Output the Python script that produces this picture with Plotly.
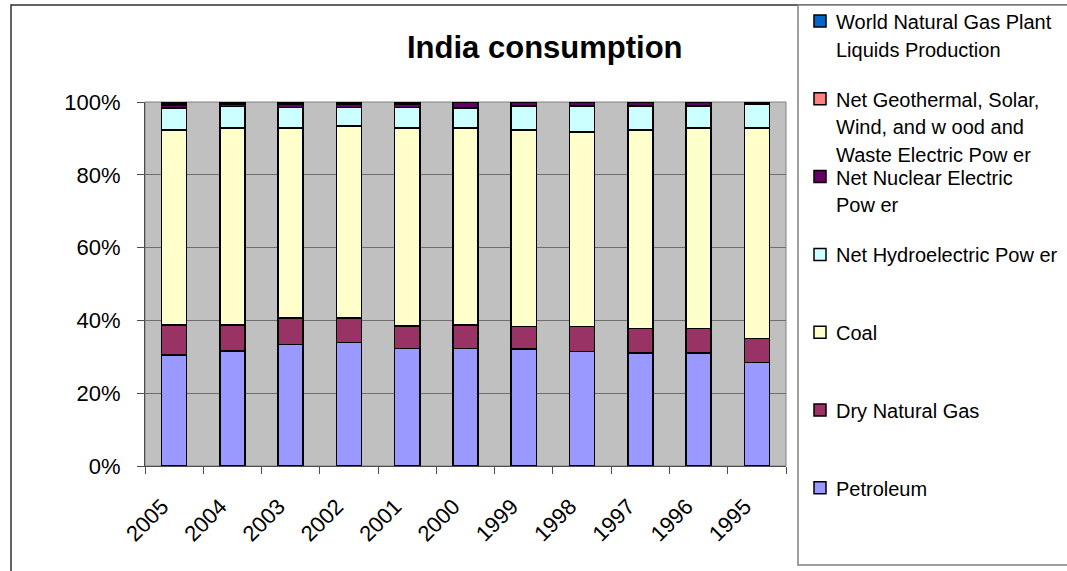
import plotly.graph_objects as go

years = ["2005", "2004", "2003", "2002", "2001", "2000", "1999", "1998", "1997", "1996", "1995"]

petroleum = [30.5, 31.6, 33.4, 33.9, 32.3, 32.3, 32.1, 31.5, 31.0, 31.0, 28.4]
dry_gas = [8.3, 7.2, 7.2, 6.7, 6.1, 6.5, 6.2, 6.8, 6.8, 6.8, 6.6]
coal = [53.5, 54.0, 52.2, 52.8, 54.4, 54.0, 54.0, 53.4, 54.5, 55.0, 57.8]
hydro = [6.0, 6.0, 5.7, 5.1, 5.7, 5.6, 6.6, 7.2, 6.6, 6.1, 6.6]
nuclear = [0.9, 0.5, 0.8, 0.8, 0.8, 1.4, 1.0, 1.0, 1.0, 1.0, 0.3]
geothermal = [0.4, 0.3, 0.3, 0.3, 0.3, 0.1, 0.05, 0.05, 0.05, 0.05, 0.2]
ngpl = [0.4, 0.4, 0.4, 0.4, 0.4, 0.1, 0.05, 0.05, 0.05, 0.05, 0.1]

series_names = [
    "Petroleum",
    "Dry Natural Gas",
    "Coal",
    "Net Hydroelectric Pow er",
    "Net Nuclear Electric|Pow er",
    "Net Geothermal, Solar,|Wind, and w ood and|Waste Electric Pow er",
    "World Natural Gas Plant|Liquids Production",
]
series_values = [petroleum, dry_gas, coal, hydro, nuclear, geothermal, ngpl]
series_colors = ["#9999FF", "#993366", "#FFFFCC", "#CCFFFF", "#660066", "#FF8080", "#0066CC"]

FONT = "Liberation Sans, Arial, sans-serif"
W, H = 1067, 571
PL, PR, PT, PB = 145, 786, 102, 466


def px_x(p):
    return (p - PL) / (PR - PL)


def px_y(p):
    return (PB - p) / (PB - PT)


fig = go.Figure()
for name, vals, col in zip(series_names, series_values, series_colors):
    fig.add_trace(go.Bar(
        x=years, y=vals, name=name.replace("|", " "),
        marker=dict(color=col, line=dict(color="black", width=1.5)),
        showlegend=False,
    ))

shapes = []
annotations = []

# outer chart border and legend box
shapes.append(dict(type="rect", xref="paper", yref="paper",
                   x0=px_x(11), x1=px_x(1100), y0=px_y(5), y1=px_y(620),
                   line=dict(color="#303030", width=1.5), fillcolor="rgba(0,0,0,0)", layer="above"))
shapes.append(dict(type="rect", xref="paper", yref="paper",
                   x0=px_x(798), x1=px_x(1100), y0=px_y(5), y1=px_y(565),
                   line=dict(color="#808080", width=1.5), fillcolor="white", layer="above"))
# plot area border
shapes.append(dict(type="rect", xref="paper", yref="paper", x0=0, x1=1, y0=0, y1=1,
                   line=dict(color="#808080", width=1), layer="below"))

# custom legend (Excel style, evenly distributed, top item = last series)
first_y = 21.0
step = 77.8
line_h = 27.5
for i, idx in enumerate(range(len(series_names) - 1, -1, -1)):
    yc = first_y + i * step
    shapes.append(dict(type="rect", xref="paper", yref="paper",
                       x0=px_x(814), x1=px_x(826), y0=px_y(yc + 6), y1=px_y(yc - 6),
                       line=dict(color="black", width=1.5), fillcolor=series_colors[idx], layer="above"))
    for j, line in enumerate(series_names[idx].split("|")):
        annotations.append(dict(xref="paper", yref="paper", x=px_x(834), y=px_y(yc + j * line_h + 1),
                                xanchor="left", yanchor="middle", showarrow=False, text=line,
                                font=dict(family=FONT, size=20, color="black")))

annotations.append(dict(xref="paper", yref="paper", x=px_x(545), y=px_y(47), xanchor="center",
                        yanchor="middle", showarrow=False, text="<b>India consumption</b>",
                        font=dict(family=FONT, size=31, color="black")))

fig.update_layout(
    width=W, height=H,
    margin=dict(l=PL, r=W - PR, t=PT, b=H - PB, pad=0),
    barmode="stack", barnorm="percent", bargap=0.57,
    paper_bgcolor="white", plot_bgcolor="#C0C0C0",
    font=dict(family=FONT, size=22, color="black"),
    shapes=shapes, annotations=annotations,
    xaxis=dict(type="category", tickangle=-45, tickson="boundaries", ticks="outside", ticklen=7,
               tickcolor="#4d4d4d", showline=True, linecolor="#4d4d4d", linewidth=1,
               showgrid=False, tickfont=dict(family=FONT, size=22),
               ticklabelstandoff=18, ticklabelshift=-12),
    yaxis=dict(range=[0, 100], dtick=20, ticksuffix="%", ticks="outside", ticklen=7,
               tickcolor="#4d4d4d", showline=True, linecolor="#4d4d4d", linewidth=1,
               showgrid=True, gridcolor="#6e6e6e", gridwidth=1, zeroline=False,
               tickfont=dict(family=FONT, size=22), ticklabelstandoff=12),
)

fig.write_html("out.html")
